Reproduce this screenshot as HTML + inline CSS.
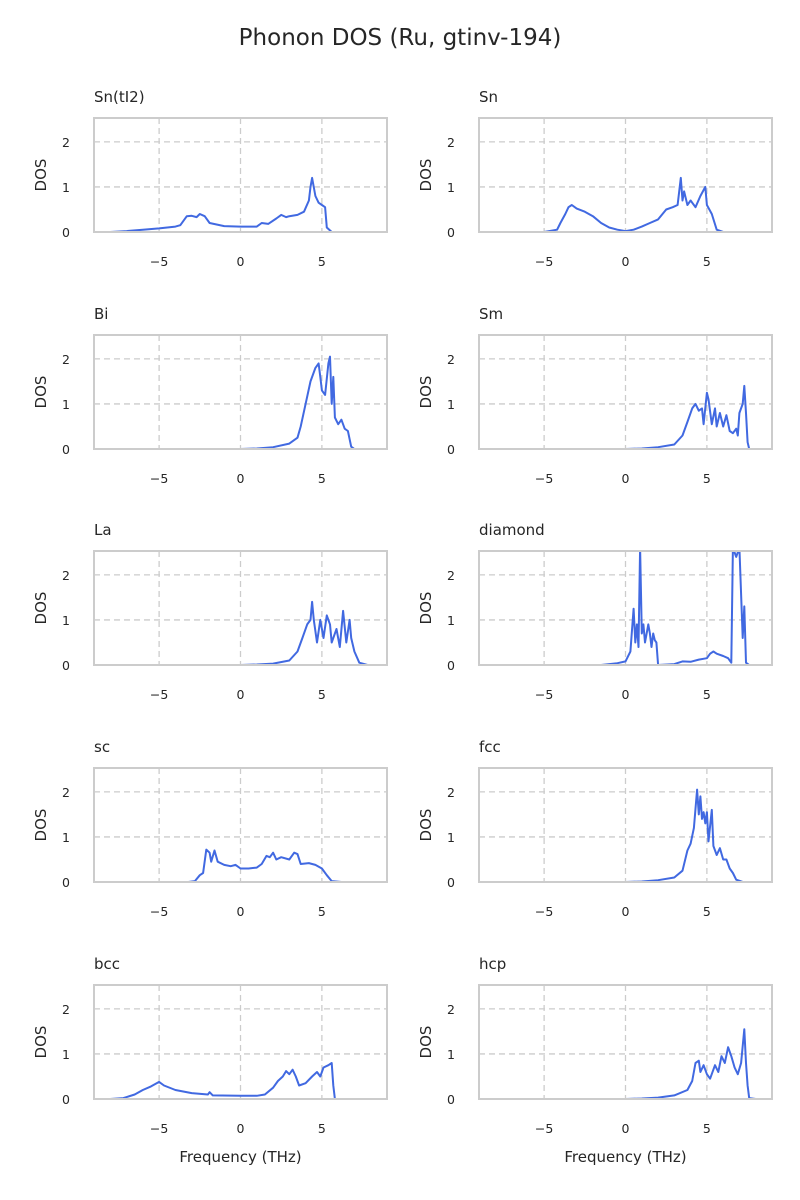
<!DOCTYPE html>
<html><head><meta charset="utf-8">
<style>
html,body{margin:0;padding:0;background:#fff;}
svg{display:block;font-family:"DejaVu Sans","Liberation Sans",sans-serif;}
</style></head>
<body>
<svg id="chart" width="800" height="1200" viewBox="0 0 800 1200">
<text x="400" y="45" text-anchor="middle" font-size="23" fill="#262626">Phonon DOS (Ru, gtinv-194)</text>
</svg>
<script>
const panelTitles = ["Sn(tI2)","Sn","Bi","Sm","La","diamond","sc","fcc","bcc","hcp"];
const xTicks = [-5,0,5];
const yTicks = [0,1,2];
const f_SntI2 = [-8,-7,-6,-5,-4,-3.7,-3.3,-3,-2.7,-2.5,-2.2,-1.9,-1,0,1,1.3,1.7,2.2,2.5,2.8,3,3.5,3.9,4.2,4.3,4.4,4.6,4.8,5,5.2,5.3,5.6,7];
const d_SntI2 = [0,0.02,0.05,0.08,0.12,0.15,0.35,0.36,0.33,0.4,0.35,0.2,0.13,0.12,0.12,0.2,0.18,0.3,0.38,0.33,0.35,0.38,0.45,0.7,1.0,1.2,0.8,0.65,0.6,0.55,0.1,0,0];
const f_Sn = [-5,-4.2,-4,-3.7,-3.5,-3.3,-3,-2.5,-2,-1.5,-1,-0.5,0,0.5,1,1.5,2,2.5,2.9,3.2,3.4,3.5,3.6,3.8,4,4.3,4.6,4.9,5,5.3,5.6,6,6.5];
const d_Sn = [0,0.05,0.2,0.4,0.55,0.6,0.52,0.45,0.35,0.2,0.1,0.05,0.02,0.05,0.12,0.2,0.28,0.5,0.55,0.6,1.2,0.7,0.9,0.6,0.7,0.55,0.8,1.0,0.6,0.4,0.05,0,0];
const f_Bi = [0,1,2,3,3.5,3.7,4,4.3,4.6,4.8,4.9,5,5.2,5.4,5.5,5.6,5.7,5.8,6,6.2,6.4,6.6,6.8,7,7.5];
const d_Bi = [0,0.01,0.04,0.12,0.25,0.5,1.0,1.5,1.8,1.9,1.6,1.3,1.2,1.9,2.05,1.0,1.6,0.7,0.55,0.65,0.45,0.4,0.05,0,0];
const f_Sm = [0,1,2,3,3.5,3.8,4.1,4.3,4.5,4.7,4.8,5,5.1,5.3,5.5,5.6,5.8,6,6.2,6.4,6.6,6.8,6.9,7,7.2,7.3,7.4,7.5,7.6,8.5];
const d_Sm = [0,0.01,0.04,0.1,0.3,0.6,0.9,1.0,0.85,0.9,0.55,1.25,1.1,0.55,0.9,0.5,0.8,0.5,0.75,0.4,0.35,0.45,0.3,0.8,1.0,1.4,0.8,0.15,0,0];
const f_La = [0,1,2,3,3.5,3.8,4.1,4.3,4.4,4.5,4.7,4.9,5.1,5.3,5.5,5.6,5.9,6.1,6.3,6.5,6.7,6.8,7,7.3,7.8];
const d_La = [0,0.01,0.03,0.1,0.3,0.6,0.9,1.0,1.4,1.0,0.5,1.0,0.6,1.1,0.9,0.5,0.8,0.4,1.2,0.5,1.0,0.6,0.3,0.05,0];
const f_diamond = [-1.5,-1,-0.5,0,0.3,0.5,0.6,0.7,0.8,0.9,1.0,1.1,1.2,1.4,1.5,1.6,1.7,1.8,1.9,2.0,3,3.5,4,4.5,5,5.2,5.4,5.6,6,6.3,6.5,6.6,6.8,7.0,7.2,7.3,7.4,7.6,8.2];
const d_diamond = [0,0.02,0.04,0.08,0.3,1.25,0.5,0.9,0.4,2.6,0.7,0.9,0.5,0.9,0.7,0.4,0.7,0.55,0.5,0,0.02,0.08,0.07,0.12,0.15,0.25,0.3,0.25,0.2,0.15,0.05,2.6,2.4,2.6,0.6,1.3,0.05,0,0];
const f_sc = [-3.2,-2.8,-2.5,-2.3,-2.1,-1.9,-1.8,-1.6,-1.4,-1,-0.6,-0.3,0,0.5,1,1.3,1.6,1.8,2,2.2,2.5,3,3.3,3.5,3.7,4.2,4.6,5,5.3,5.6,6.2];
const d_sc = [0,0.02,0.15,0.2,0.72,0.65,0.45,0.7,0.45,0.38,0.35,0.38,0.3,0.3,0.32,0.4,0.58,0.55,0.65,0.5,0.55,0.5,0.65,0.62,0.4,0.42,0.38,0.3,0.15,0.02,0];
const f_fcc = [0,1,2,3,3.5,3.8,4,4.2,4.4,4.5,4.6,4.7,4.8,4.9,5,5.1,5.3,5.4,5.6,5.8,6,6.2,6.4,6.6,6.8,7.2];
const d_fcc = [0,0.01,0.04,0.1,0.25,0.7,0.85,1.2,2.05,1.5,1.9,1.4,1.55,1.3,1.55,0.9,1.6,0.8,0.6,0.75,0.5,0.5,0.3,0.2,0.05,0];
const f_bcc = [-8,-7.2,-6.5,-6,-5.5,-5,-4.7,-4,-3,-2,-1.9,-1.7,0,1,1.5,2,2.3,2.6,2.8,3,3.2,3.4,3.6,4,4.4,4.7,4.9,5.1,5.4,5.6,5.7,5.8,7.2];
const d_bcc = [0,0.02,0.1,0.2,0.28,0.38,0.3,0.2,0.13,0.1,0.15,0.08,0.07,0.07,0.1,0.25,0.4,0.5,0.62,0.55,0.65,0.5,0.3,0.35,0.5,0.6,0.5,0.7,0.75,0.8,0.3,0,0];
const f_hcp = [0,1,2,3,3.8,4.1,4.3,4.5,4.6,4.8,5,5.2,5.5,5.7,5.9,6.1,6.3,6.5,6.7,6.9,7.1,7.3,7.4,7.5,7.6,8];
const d_hcp = [0,0.01,0.03,0.08,0.2,0.4,0.8,0.85,0.6,0.75,0.55,0.45,0.75,0.6,0.95,0.8,1.15,0.95,0.7,0.55,0.8,1.55,0.8,0.3,0.02,0];

const freqs = [f_SntI2,f_Sn,f_Bi,f_Sm,f_La,f_diamond,f_sc,f_fcc,f_bcc,f_hcp];
const doses = [d_SntI2,d_Sn,d_Bi,d_Sm,d_La,d_diamond,d_sc,d_fcc,d_bcc,d_hcp];

const NS = "http://www.w3.org/2000/svg";
const svg = document.getElementById('chart');
const XMIN=-9, XMAX=9, YMIN=0, YMAX=2.53;
const W=293, H=114;
const lefts=[94,479], tops=[118,335,551,768,985];
function mk(tag, attrs, parent){const e=document.createElementNS(NS,tag);for(const k in attrs)e.setAttribute(k,attrs[k]);(parent||svg).appendChild(e);return e;}

panelTitles.forEach((t,i)=>{
  const L=lefts[i%2], T=tops[Math.floor(i/2)];
  const sx=v=>L+(v-XMIN)/(XMAX-XMIN)*W;
  const sy=v=>T+H-(v-YMIN)/(YMAX-YMIN)*H;
  const g=mk('g',{});
  
  
  const clipId='clip'+i;
  const cp=mk('clipPath',{id:clipId},g); mk('rect',{x:L,y:T,width:W,height:H},cp);
  xTicks.forEach(v=>{
    const l=mk('line',{x1:sx(v),x2:sx(v),y1:T,y2:T+H,stroke:'#cccccc','stroke-width':1.3,'stroke-dasharray':'6,4'},g);
    
    
    const tx=mk('text',{x:sx(v),y:T+H+34,'text-anchor':'middle','font-size':12.5,fill:'#262626'},g);
    tx.textContent=v<0?'\u2212'+Math.abs(v):String(v);
    
    
  });
  yTicks.forEach(v=>{
    if(v>0){const l=mk('line',{x1:L,x2:L+W,y1:sy(v),y2:sy(v),stroke:'#cccccc','stroke-width':1.3,'stroke-dasharray':'6,4'},g);
    
    }
    const ty=mk('text',{x:L-24,y:sy(v)+5,'text-anchor':'end','font-size':12.5,fill:'#262626'},g);
    ty.textContent=String(v);
    
    
  });
  const pts=freqs[i].map((f,k)=>sx(f).toFixed(1)+','+sy(doses[i][k]).toFixed(1)).join(' ');
  const pl=mk('polyline',{points:pts,fill:'none',stroke:'#4169e1','stroke-width':2,'stroke-linejoin':'round','clip-path':'url(#'+clipId+')'},g);
  
  
  const fr=mk('rect',{x:L,y:T,width:W,height:H,fill:'none',stroke:'#cccccc','stroke-width':2},g);
  
  
  const tt=mk('text',{x:L,y:T-16,'font-size':15,fill:'#262626'},g);
  tt.textContent=t;
  
  
  const yl=mk('text',{x:0,y:0,'text-anchor':'middle','font-size':15,fill:'#262626',transform:'translate('+(L-48)+','+(T+H/2)+') rotate(-90)'},g);
  yl.textContent='DOS';
  
  
  if(i>=8){
    const xl=mk('text',{x:L+W/2,y:T+H+63,'text-anchor':'middle','font-size':15,fill:'#262626'},g);
    xl.textContent='Frequency (THz)';
    
    
  }
});
</script>
</body></html>
